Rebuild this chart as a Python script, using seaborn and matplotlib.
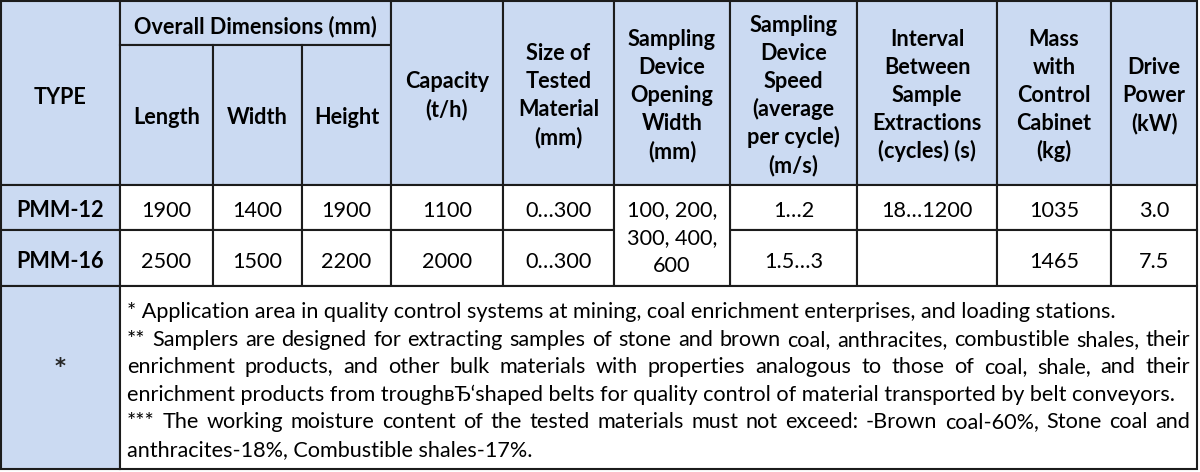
import matplotlib
matplotlib.use("Agg")
import matplotlib.pyplot as plt
from matplotlib.patches import Rectangle
import seaborn as sns

# Table content
types = ["PMM-12", "PMM-16"]
length = ["1900", "2500"]
width = ["1400", "1500"]
height = ["1900", "2200"]
capacity = ["1100", "2000"]
size_tested = ["0…300", "0…300"]
opening_width = "100, 200,\n300, 400,\n600"
speed = ["1…2", "1.5…3"]
interval = ["18…1200", ""]
mass = ["1035", "1465"]
power = ["3.0", "7.5"]

group_header = "Overall Dimensions (mm)"
sub_headers = ["Length", "Width", "Height"]
headers = ["Capacity\n(t/h)",
           "Size of\nTested\nMaterial\n(mm)",
           "Sampling\nDevice\nOpening\nWidth\n(mm)",
           "Sampling\nDevice\nSpeed\n(average\nper cycle)\n(m/s)",
           "Interval\nBetween\nSample\nExtractions\n(cycles) (s)",
           "Mass\nwith\nControl\nCabinet\n(kg)",
           "Drive\nPower\n(kW)"]

notes = [
    "* Application area in quality control systems at mining, coal enrichment enterprises, and loading stations.",
    "** Samplers are designed for extracting samples of stone and brown coal, anthracites, combustible shales, their",
    "enrichment products, and other bulk materials with properties analogous to those of coal, shale, and their",
    "enrichment products from troughвЂ‘shaped belts for quality control of material transported by belt conveyors.",
    "*** The working moisture content of the tested materials must not exceed: -Brown coal-60%, Stone coal and",
    "anthracites-18%, Combustible shales-17%.",
]
justify = [False, True, True, False, True, False]

sns.set_theme(style="white")
plt.rcParams["font.family"] = ["Lato", "DejaVu Sans"]

W, H = 1200, 472
fig = plt.figure(figsize=(12, 4.72), dpi=100)
ax = fig.add_axes([0, 0, 1, 1])
ax.set_xlim(0, W)
ax.set_ylim(H, 0)
ax.axis("off")

HEAD = "#CBDAF2"
LINE = "#1c1c1c"
FS = 15.6
LH = 28
col_x = [1, 120, 213, 302, 391, 503, 614, 730, 857, 997, 1111, 1197]
row_y = [1, 45, 185, 230, 286, 469]


def cell(c0, c1, r0, r1, fill="white"):
    ax.add_patch(Rectangle((col_x[c0], row_y[r0]), col_x[c1] - col_x[c0],
                           row_y[r1] - row_y[r0], facecolor=fill,
                           edgecolor=LINE, linewidth=1.5))


def put(c0, c1, r0, r1, s, bold=False, yc=None):
    xc = (col_x[c0] + col_x[c1]) / 2
    if yc is None:
        yc = (row_y[r0] + row_y[r1]) / 2 + 2
    lines = s.split("\n")
    n = len(lines)
    for i, ln in enumerate(lines):
        y = yc + (i - (n - 1) / 2) * LH + 7.5
        ax.text(xc, y, ln, ha="center", va="baseline", fontsize=FS,
                fontweight="bold" if bold else "normal", color="black")


# header cells
cell(0, 1, 0, 2, HEAD)
put(0, 1, 0, 2, "TYPE", bold=True, yc=97)
cell(1, 4, 0, 1, HEAD)
put(1, 4, 0, 1, group_header, bold=True, yc=26)
for j, lab in enumerate(sub_headers):
    cell(1 + j, 2 + j, 1, 2, HEAD)
    put(1 + j, 2 + j, 1, 2, lab, bold=True, yc=117)
for j, lab in enumerate(headers):
    cell(4 + j, 5 + j, 0, 2, HEAD)
    put(4 + j, 5 + j, 0, 2, lab, bold=True, yc=95)

# body rows
for i in range(len(types)):
    r = 2 + i
    cell(0, 1, r, r + 1, HEAD)
    put(0, 1, r, r + 1, types[i], bold=True)
    vals = [length[i], width[i], height[i], capacity[i], size_tested[i]]
    for j, v in enumerate(vals):
        cell(1 + j, 2 + j, r, r + 1)
        put(1 + j, 2 + j, r, r + 1, v)
    for j, v in zip([7, 8, 9, 10], [speed[i], interval[i], mass[i], power[i]]):
        cell(j, j + 1, r, r + 1)
        put(j, j + 1, r, r + 1, v)
cell(6, 7, 2, 4)
put(6, 7, 2, 4, opening_width, yc=237)

# footnote row
cell(0, 1, 4, 5, HEAD)
ax.text(60, 367, "*", ha="center", va="center", fontsize=15,
        fontweight="bold", family="DejaVu Sans")
cell(1, 11, 4, 5)

renderer = fig.canvas.get_renderer()
left, right = 127, 1190
for k, (ln, jf) in enumerate(zip(notes, justify)):
    y = 318 + k * 27.6
    if not jf:
        ax.text(left, y, ln, ha="left", va="baseline", fontsize=FS, color="black")
        continue
    words = ln.split(" ")
    arts = [ax.text(0, y, w, ha="left", va="baseline", fontsize=FS, color="black")
            for w in words]
    widths = [a.get_window_extent(renderer).width for a in arts]
    gap = (right - left - sum(widths)) / (len(words) - 1)
    x = left
    for a, w in zip(arts, widths):
        a.set_x(x)
        x += w + gap

fig.savefig("out.png", dpi=100, facecolor="white")
